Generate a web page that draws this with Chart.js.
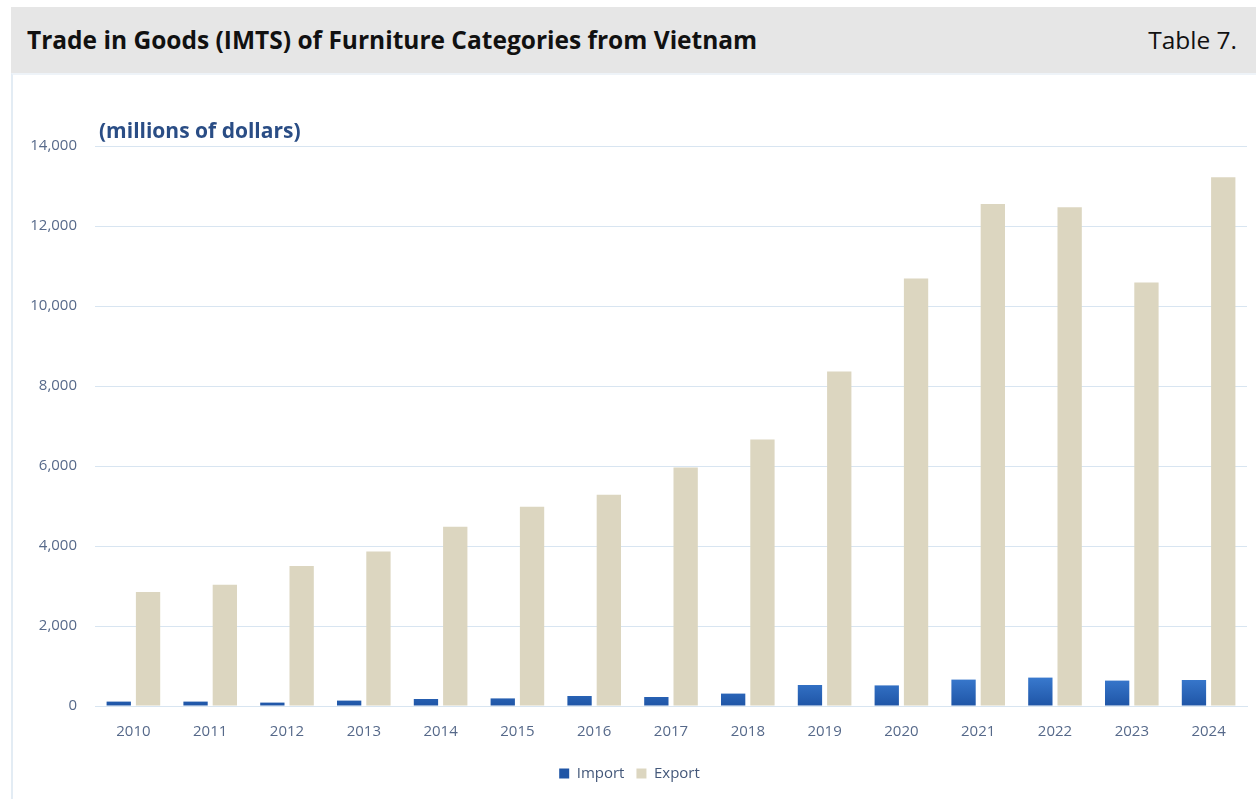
<!DOCTYPE html>
<html>
<head>
<meta charset="utf-8">
<script src="https://cdn.jsdelivr.net/npm/chart.js@4.4.1/dist/chart.umd.min.js"></script>
<style>
  body { margin: 0; background: #fff; width: 1256px; height: 799px; overflow: hidden; font-family: "Open Sans", sans-serif; }
  .header { position: absolute; left: 11px; top: 7px; width: 1245px; height: 66px; background: #e6e6e6; }
  .header .title { position: absolute; left: 16px; top: 0; line-height: 66px; font-size: 24.5px; font-weight: bold; color: #111; }
  .header .num { position: absolute; right: 19px; top: 0; line-height: 66px; font-size: 24.5px; color: #111; }
  .panel { position: absolute; left: 11px; top: 73px; width: 1245px; height: 726px; border-left: 2px solid #e3ecf4; border-top: 2px solid #eef3f8; box-sizing: border-box; }
  #wrap { position: absolute; left: 12px; top: 80px; width: 1244px; height: 719px; }
</style>
</head>
<body>
<div class="header">
  <div class="title">Trade in Goods (IMTS) of Furniture Categories from Vietnam</div>
  <div class="num">Table 7.</div>
</div>
<div class="panel"></div>
<div id="wrap"><canvas id="chart"></canvas></div>
<script>
const years = ["2010", "2011", "2012", "2013", "2014", "2015", "2016", "2017", "2018", "2019", "2020", "2021", "2022", "2023", "2024"];
const importValues = [110, 110, 85, 135, 175, 190, 250, 225, 310, 525, 515, 660, 710, 635, 650];
const exportValues = [2850, 3030, 3500, 3860, 4480, 4980, 5280, 5960, 6660, 8360, 10690, 12550, 12470, 10590, 13220];
const yTicks = [0, 2000, 4000, 6000, 8000, 10000, 12000, 14000];

const tickColor = "#56698a";
const gridColor = "#d8e5f1";
const fontFamily = "'Open Sans', sans-serif";

function importFill(context) {
  const chart = context.chart;
  const area = chart.chartArea;
  if (!area) return "#2e6bc0";
  const g = chart.ctx.createLinearGradient(0, area.bottom - 30, 0, area.bottom);
  g.addColorStop(0, "#3a7bd0");
  g.addColorStop(1, "#1f55a6");
  return g;
}

// "(millions of dollars)" label above the plot
const unitLabel = {
  id: "unitLabel",
  afterDraw(chart) {
    const ctx = chart.ctx;
    ctx.save();
    ctx.font = "bold 21px " + fontFamily;
    ctx.fillStyle = "#2a4d85";
    ctx.textAlign = "left";
    ctx.textBaseline = "middle";
    ctx.fillText("(millions of dollars)", chart.chartArea.left + 4, 52);
    ctx.restore();
  }
};

const ctx = document.getElementById("chart").getContext("2d");
new Chart(ctx, {
  type: "bar",
  data: {
    labels: years,
    datasets: [
      {
        label: "Import",
        data: importValues,
        backgroundColor: importFill,
        categoryPercentage: 0.763,
        barPercentage: 0.83
      },
      {
        label: "Export",
        data: exportValues,
        backgroundColor: "#dcd6c0",
        categoryPercentage: 0.763,
        barPercentage: 0.83
      }
    ]
  },
  options: {
    responsive: true,
    maintainAspectRatio: false,
    animation: false,
    layout: { padding: { top: 66, right: 9, left: 0, bottom: 8 } },
    scales: {
      x: {
        grid: { display: false, drawTicks: false },
        border: { color: gridColor, width: 1 },
        ticks: { color: tickColor, font: { size: 15, family: fontFamily }, padding: 17 },
        afterFit: (scale) => { scale.height = 48; }
      },
      y: {
        min: 0,
        max: 14000,
        afterBuildTicks: (scale) => { scale.ticks = yTicks.map((v) => ({ value: v })); },
        grid: { color: gridColor, drawTicks: false },
        border: { display: false },
        ticks: {
          color: tickColor,
          font: { size: 15, family: fontFamily },
          padding: 18,
          callback: (v) => v.toLocaleString("en-US")
        },
        afterFit: (scale) => { scale.width = 83; }
      }
    },
    plugins: {
      legend: {
        position: "bottom",
        labels: {
          color: "#44587a",
          font: { size: 15, family: fontFamily },
          boxWidth: 10,
          boxHeight: 10,
          padding: 12
        }
      },
      tooltip: { enabled: false }
    }
  },
  plugins: [unitLabel]
});
</script>
</body>
</html>
